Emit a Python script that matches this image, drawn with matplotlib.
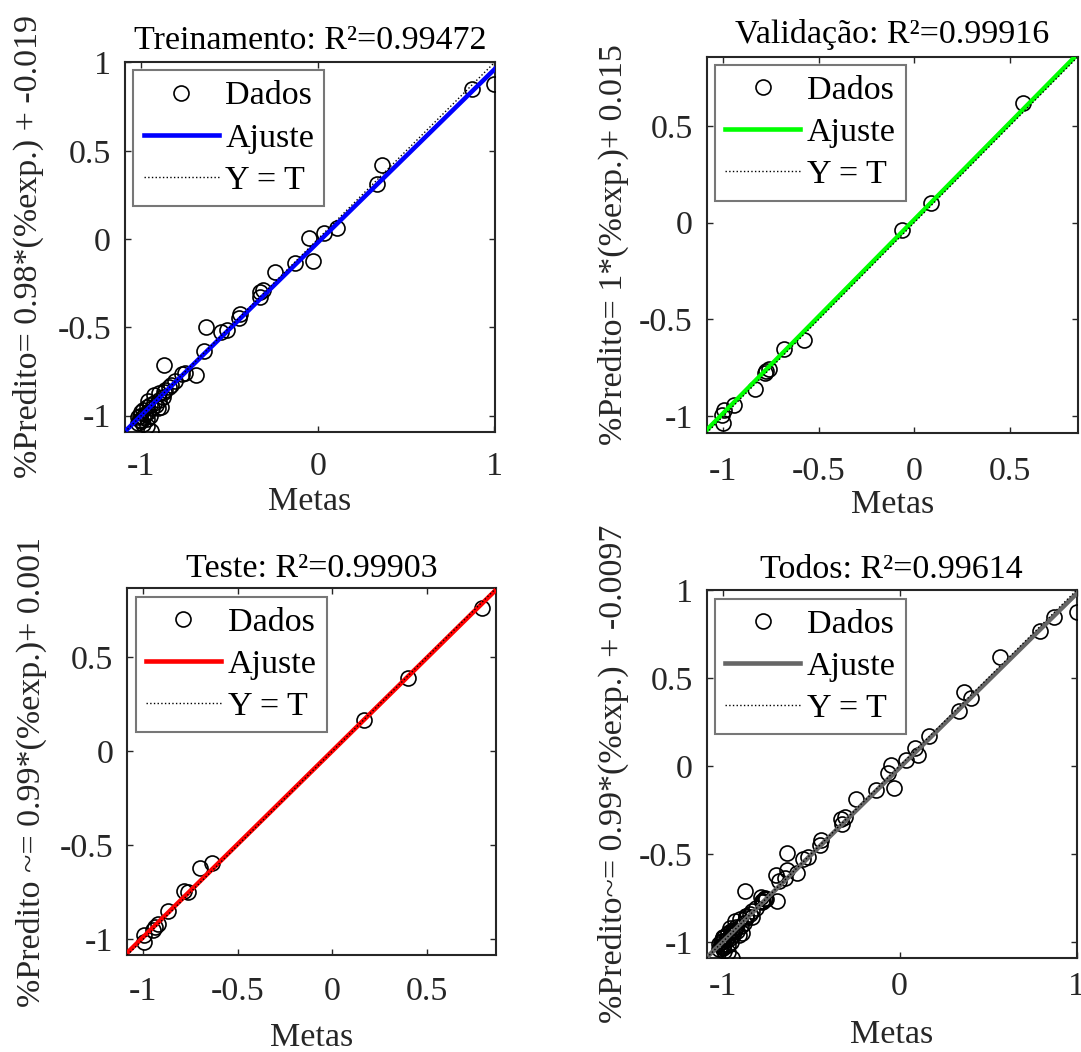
import matplotlib
matplotlib.use('Agg')
import matplotlib.pyplot as plt
import numpy as np

plt.rcParams['font.family'] = ['Liberation Serif', 'DejaVu Serif']
plt.rcParams['axes.unicode_minus'] = False

# ---------------- data ----------------
train_t = [1.000, 0.873, 0.365, 0.337, 0.106, 0.034, -0.049, -0.030, -0.131, -0.244,
           -0.311, -0.330, -0.326, -0.443, -0.449, -0.636, -0.515, -0.547, -0.646, -0.873,
           -0.693, -0.755, -0.770, -0.812, -0.835, -0.845, -0.865, -0.870, -0.900, -0.930,
           -0.879, -0.898, -0.888, -0.905, -0.930, -0.950, -0.970, -0.990, -1.000, -1.010,
           -0.980, -0.960, -1.020, -1.000, -0.990, -0.970, -0.950, -1.010, -0.970, -0.945,
           -1.020, -0.990, -0.940, -0.920, -0.960]
train_y = [0.877, 0.849, 0.418, 0.310, 0.061, 0.032, 0.008, -0.124, -0.137, -0.186,
           -0.289, -0.300, -0.330, -0.422, -0.447, -0.497, -0.517, -0.528, -0.636, -0.712,
           -0.769, -0.758, -0.765, -0.807, -0.826, -0.840, -0.855, -0.864, -0.870, -0.883,
           -0.893, -0.912, -0.950, -0.960, -0.930, -0.940, -0.950, -0.970, -0.980, -1.000,
           -0.990, -0.980, -1.010, -1.030, -1.050, -1.020, -1.000, -1.026, -1.060, -1.090,
           -1.040, -1.010, -0.960, -0.940, -0.920]

val_t = [0.567, 0.087, -0.066, -0.578, -0.680, -0.763, -0.775, -0.780, -0.836, -0.945,
         -0.997, -1.006, -1.000]
val_y = [0.620, 0.100, -0.040, -0.606, -0.653, -0.758, -0.765, -0.775, -0.861, -0.944,
         -0.970, -0.996, -1.034]

test_t = [0.793, 0.404, 0.168, -0.638, -0.697, -0.763, -0.783, -0.869, -0.922, -0.935,
          -0.949, -0.998, -0.998]
test_y = [0.765, 0.388, 0.168, -0.592, -0.622, -0.749, -0.745, -0.852, -0.917, -0.935,
          -0.949, -0.980, -1.016]

all_t = train_t + val_t + test_t
all_y = train_y + val_y + test_y

titles = ['Treinamento: R²=0.99472', 'Validação: R²=0.99916',
          'Teste: R²=0.99903', 'Todos: R²=0.99614']
ylabels = ['%Predito= 0.98*(%exp.) + -0.019', '%Predito= 1*(%exp.)+ 0.015',
           '%Predito ~= 0.99*(%exp.)+ 0.001', '%Predito~= 0.99*(%exp.) + -0.0097']
slopes = [0.98, 1.0, 0.99, 0.99]
intercepts = [-0.019, 0.015, 0.001, -0.0097]
fit_colors = ['#0000ff', '#00ff00', '#ff0000', '#666666']
limits = [(-1.093, 1.003), (-1.087, 0.857), (-1.084, 0.868), (-1.09, 1.0)]
xticks_list = [[-1, 0, 1], [-1, -0.5, 0, 0.5], [-1, -0.5, 0, 0.5], [-1, 0, 1]]
yticks_list = [[-1, -0.5, 0, 0.5, 1], [-1, -0.5, 0, 0.5], [-1, -0.5, 0, 0.5],
               [-1, -0.5, 0, 0.5, 1]]
tick_labels = {-1: '-1', -0.5: '-0.5', 0: '0', 0.5: '0.5', 1: '1'}

datasets = [(train_t, train_y), (val_t, val_y), (test_t, test_y), (all_t, all_y)]

positions = [[0.1156, 0.5894, 0.3423, 0.3517],
             [0.6537, 0.5884, 0.3435, 0.3577],
             [0.1178, 0.0922, 0.3411, 0.3486],
             [0.6537, 0.0896, 0.3423, 0.3495]]
ylabel_x = [-0.219, -0.209, -0.218, -0.21]
title_pads = [9.0, 10.0, 8.0, 8.5]
xtick_pads = [14.3, 17.2, 15.8, 10.0]
xlabel_pads = [3, 1.5, 11, 12.5]

FS = 24.5
axcol = '#262626'

fig = plt.figure(figsize=(10.81, 10.52), dpi=100)

for i in range(4):
    ax = fig.add_axes(positions[i])
    t, y = datasets[i]
    lo, hi = limits[i]
    ax.plot(t, y, linestyle='none', marker='o', markersize=10.8,
            markerfacecolor='none', markeredgecolor='black', markeredgewidth=1.2,
            label='Dados', zorder=3)
    xs = np.array([lo, hi])
    ax.plot(xs, slopes[i] * xs + intercepts[i], color=fit_colors[i], linewidth=3.3,
            label='Ajuste', zorder=4)
    ax.plot(xs, xs, color='black', linestyle=':', linewidth=1.0, label='Y = T', zorder=5)
    ax.set_xlim(lo, hi)
    ax.set_ylim(lo, hi)
    ax.set_xticks(xticks_list[i])
    ax.set_xticklabels([tick_labels[v] for v in xticks_list[i]])
    ax.set_yticks(yticks_list[i])
    ax.set_yticklabels([tick_labels[v] for v in yticks_list[i]])
    ax.tick_params(direction='in', top=True, right=True, length=4, width=1,
                   labelsize=FS, colors=axcol, labelcolor=axcol)
    ax.tick_params(axis='x', pad=xtick_pads[i])
    ax.tick_params(axis='y', pad=10)
    for s in ax.spines.values():
        s.set_linewidth(1.5)
        s.set_color(axcol)
    ax.set_title(titles[i], fontsize=FS, pad=title_pads[i], color='black')
    ax.set_xlabel('Metas', fontsize=FS, color=axcol, labelpad=xlabel_pads[i])
    ax.set_ylabel(ylabels[i], fontsize=FS, color=axcol)
    ax.yaxis.set_label_coords(ylabel_x[i], 0.5)
    leg = ax.legend(loc='upper left', fontsize=FS, frameon=True, fancybox=False,
                    handlelength=2.2, handletextpad=0.2, labelspacing=0.33,
                    borderpad=0.3, borderaxespad=0.25)
    leg.get_frame().set_edgecolor('#555555')
    leg.get_frame().set_linewidth(1.5)
    for txt in leg.get_texts():
        txt.set_color('black')

fig.savefig('out.png', dpi=100)
